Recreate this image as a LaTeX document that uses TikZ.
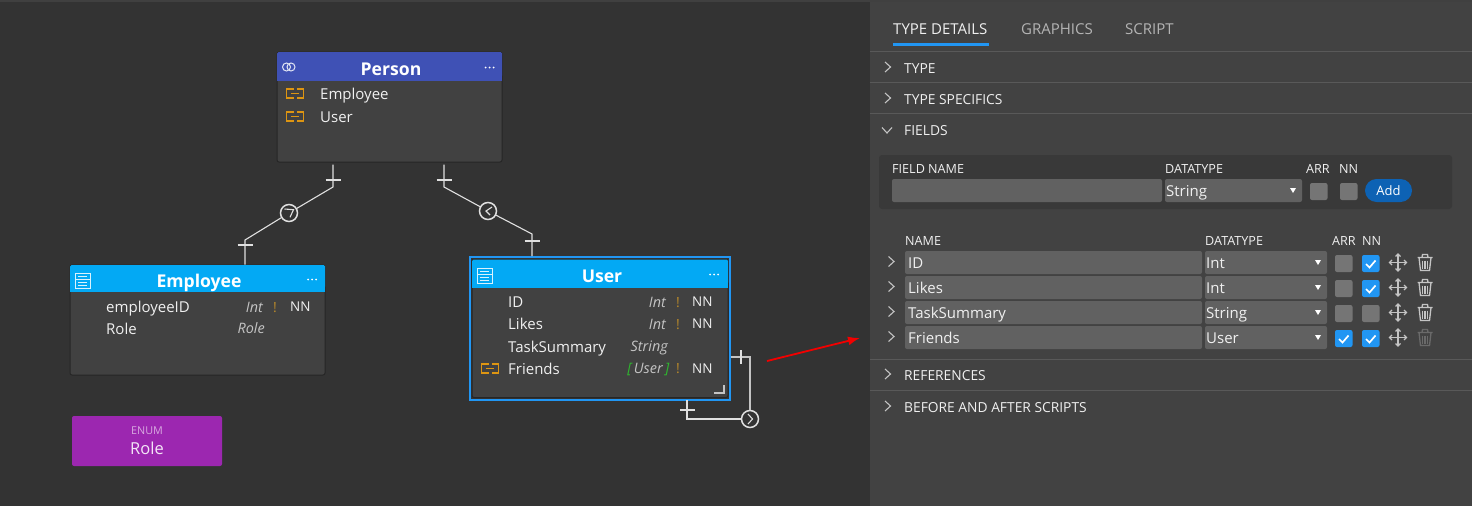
\documentclass[tikz,border=0pt]{standalone}
\usepackage{fontspec}
\setmainfont{Open Sans}
\usetikzlibrary{arrows.meta}
\definecolor{canvas}{HTML}{333333}
\definecolor{panel}{HTML}{424242}
\definecolor{boxbody}{HTML}{414141}
\definecolor{edge}{HTML}{262626}
\definecolor{indigo}{HTML}{3F51B5}
\definecolor{sky}{HTML}{03A9F4}
\definecolor{selblue}{HTML}{2196F3}
\definecolor{purp}{HTML}{9C27B0}
\definecolor{field}{HTML}{616161}
\definecolor{chk}{HTML}{757575}
\definecolor{addbox}{HTML}{393939}
\definecolor{addbtn}{HTML}{0D62B4}
\definecolor{orng}{HTML}{DD9512}
\definecolor{excl}{HTML}{B8892A}
\definecolor{grn}{HTML}{2EB82E}
\definecolor{txt}{HTML}{F0F0F0}
\definecolor{soft}{HTML}{C4C4C4}
\definecolor{dim}{HTML}{B4B4B4}
\definecolor{conn}{HTML}{E0E0E0}
\definecolor{faded}{HTML}{6A6A6A}
\tikzset{
  x=1pt,y=-1pt,
  fieldlabel/.style={inner sep=0pt,anchor=base west,text=txt,font=\fontsize{15}{17}\selectfont},
  boxtitle/.style={inner sep=0pt,anchor=base,text=white,font=\fontsize{17.6}{20}\bfseries\selectfont},
  typ/.style={inner sep=0pt,anchor=base east,text=soft,font=\fontsize{14.4}{16}\itshape\selectfont},
  bang/.style={inner sep=0pt,anchor=base,text=excl,font=\fontsize{14}{16}\selectfont},
  nnmark/.style={inner sep=0pt,anchor=base west,text=txt,font=\fontsize{13.5}{16}\selectfont},
  tabtext/.style={inner sep=0pt,anchor=base west,font=\fontsize{15}{17}\selectfont},
  sect/.style={inner sep=0pt,anchor=base west,text=txt,font=\fontsize{13.8}{16}\selectfont},
  colhead/.style={inner sep=0pt,anchor=base west,text=txt,font=\fontsize{12.6}{15}\selectfont},
  val/.style={inner sep=0pt,anchor=base west,text=txt,font=\fontsize{15}{17}\selectfont},
  conline/.style={draw=conn,line width=1.1pt},
  roundel/.style={circle,draw=conn,line width=1.5pt,fill=canvas,minimum size=17pt,inner sep=0pt},
  chev/.style={draw=soft,line width=1.1pt}
}
\newcommand{\boxshape}[7]{% x1 y1 x2 y2 ybar colour edge
  \fill[boxbody,draw=#7,rounded corners=2pt,line width=1pt] (#1,#2) rectangle (#3,#4);
  \fill[#6,rounded corners=1.5pt] (#1,#2) rectangle (#3,#5-4);
  \fill[#6] (#1,#2+4) rectangle (#3,#5);
}
\newcommand{\threedots}[2]{\fill[white] (#1-4,#2) circle (1pt) (#1,#2) circle (1pt) (#1+4,#2) circle (1pt);}
\newcommand{\tableicon}[2]{% top-left
  \draw[white!85!sky,line width=1pt] (#1,#2) rectangle (#1+15,#2+15);
  \draw[white!85!sky,line width=.8pt] (#1+3,#2+3.5) -- (#1+12,#2+3.5) (#1,#2+6.5) -- (#1+15,#2+6.5) (#1+3,#2+9.5) -- (#1+12,#2+9.5) (#1+3,#2+12) -- (#1+12,#2+12);
}
\newcommand{\linkicon}[2]{% centre
  \draw[orng,line width=1.1pt] (#1-1.5,#2-4.5) -- (#1-8.5,#2-4.5) -- (#1-8.5,#2+4.5) -- (#1-1.5,#2+4.5)
    (#1+1.5,#2-4.5) -- (#1+8.5,#2-4.5) -- (#1+8.5,#2+4.5) -- (#1+1.5,#2+4.5)
    (#1-4,#2) -- (#1+4,#2);
}
\newcommand{\cmark}[3]{\fill[#3,rounded corners=2pt] (#1,#2) rectangle (#1+17.5,#2+17);}
\newcommand{\cmarkon}[2]{\cmark{#1}{#2}{selblue}
  \draw[white,line width=1.7pt] (#1+4,#2+9) -- (#1+7.5,#2+12.5) -- (#1+13.5,#2+5.5);}
\newcommand{\moveicon}[2]{% centre
  \draw[soft,line width=1.3pt] (#1-8,#2) -- (#1+8,#2) (#1,#2-8) -- (#1,#2+8);
  \draw[soft,line width=1.3pt] (#1-6,#2-2.5) -- (#1-8.5,#2) -- (#1-6,#2+2.5)
    (#1+6,#2-2.5) -- (#1+8.5,#2) -- (#1+6,#2+2.5)
    (#1-2.5,#2-6) -- (#1,#2-8.5) -- (#1+2.5,#2-6)
    (#1-2.5,#2+6) -- (#1,#2+8.5) -- (#1+2.5,#2+6);
}
\newcommand{\trashicon}[3]{% centre colour
  \draw[#3,line width=1.3pt] (#1-7.5,#2-5) -- (#1+7.5,#2-5) (#1-3,#2-5) -- (#1-2.5,#2-8) -- (#1+2.5,#2-8) -- (#1+3,#2-5);
  \draw[#3,line width=1.3pt] (#1-6,#2-5) -- (#1-4.5,#2+8) -- (#1+4.5,#2+8) -- (#1+6,#2-5);
  \draw[#3,line width=1.1pt] (#1-2.4,#2-2) -- (#1-2.4,#2+6) (#1,#2-2) -- (#1,#2+6) (#1+2.4,#2-2) -- (#1+2.4,#2+6);
}
\newcommand{\chevR}[2]{\draw[chev] (#1-2.5,#2-5) -- (#1+3,#2) -- (#1-2.5,#2+5);}
\newcommand{\chevD}[2]{\draw[chev] (#1-5,#2-2.5) -- (#1,#2+3) -- (#1+5,#2-2.5);}
\newcommand{\seltri}[2]{\fill[white] (#1-3,#2-2.5) -- (#1+3,#2-2.5) -- (#1,#2+2.5) -- cycle;}
\newcommand{\fieldrow}[4]{% n y name type
  \fill[field,rounded corners=2pt] (905,#2-11.5) rectangle (1202,#2+11.5);
  \node[val] (rname#1) at (908,#2+5.5) {#3};
  \fill[field,rounded corners=2pt] (1205,#2-11.5) rectangle (1327,#2+11.5);
  \node[val] (rtype#1) at (1206,#2+5.5) {#4};
  \seltri{1318}{#2}
  \chevR{891}{#2-1}
  \moveicon{1398}{#2}
}
\begin{document}
\begin{tikzpicture}
\useasboundingbox (0,0) rectangle (1472,506);
\fill[canvas] (0,0) rectangle (870,506);
\fill[panel] (870,0) rectangle (1472,506);
\fill[black!75] (0,0) rectangle (1472,1.5);

% ---------- diagram boxes
\boxshape{277}{52}{502}{162}{81}{indigo}{edge}
\draw[white!85!indigo,line width=1pt] (286.5,67) circle (4pt) (291,67) circle (4pt);
\node[boxtitle] (person) at (391,75) {Person};
\threedots{489.5}{67.5}
\linkicon{295}{93.5}
\node[fieldlabel] (pemp) at (320,99) {Employee};
\linkicon{295}{116.5}
\node[fieldlabel] (puser) at (320,122) {User};

\boxshape{70}{265}{325}{375}{292}{sky}{edge}
\tableicon{75}{273}
\node[boxtitle] (employee) at (199,287) {Employee};
\threedots{312}{279.5}
\node[fieldlabel] (eid) at (106,312) {employeeID};
\node[typ] (eidt) at (263,312) {Int};
\node[bang] (eidx) at (275,312) {!};
\node[nnmark] (eidn) at (290,311) {NN};
\node[fieldlabel] (erole) at (106,334) {Role};
\node[typ] (eroley) at (265,333) {Role};

% selected User box
\draw[selblue,line width=2pt] (470,257) rectangle (730,399.5);
\boxshape{472}{259.5}{728}{397.5}{288}{sky}{black!85}
\tableicon{477}{268}
\node[boxtitle] (user) at (602,282) {User};
\threedots{714}{274.5}
\node[fieldlabel] (uid) at (508,307) {ID};
\node[typ] (uidt) at (666,307) {Int};
\node[bang] (uidx) at (678,307) {!};
\node[nnmark] (uidn) at (692,306) {NN};
\node[fieldlabel] (ulk) at (508,329) {Likes};
\node[typ] (ulkt) at (666,329) {Int};
\node[bang] (ulkx) at (678,329) {!};
\node[nnmark] (ulkn) at (692,328) {NN};
\node[fieldlabel] (uts) at (508,352) {TaskSummary};
\node[typ] (utst) at (668,351) {String};
\linkicon{490}{368.5}
\node[fieldlabel] (ufr) at (508,374) {Friends};
\node[typ] (ufrt) at (669.5,373) {\textcolor{grn}{[\,}User\,\textcolor{grn}{]}};
\node[bang] (ufrx) at (678,373) {!};
\node[nnmark] (ufrn) at (692,373) {NN};
\draw[soft,line width=1.3pt] (724,385) -- (724,393) -- (714,393);

% enum
\fill[purp,rounded corners=2pt] (72,416) rectangle (222,466);
\node[inner sep=0pt,anchor=base,text=white!60!purp,font=\fontsize{10.8}{12}\selectfont] (enumk) at (147,434) {ENUM};
\node[inner sep=0pt,anchor=base,text=white!88!purp,font=\fontsize{16.5}{19}\selectfont] (enumr) at (147,454) {Role};

% ---------- connectors
\coordinate (pl) at (333,164.5);
\coordinate (plb) at (333,187);
\coordinate (el) at (245,240);
\coordinate (eb) at (245,264.5);
\node[roundel] (c1) at (289,213) {};
\draw[conline] (pl) -- (plb) -- (c1);
\draw[conline] (c1) -- (el) -- (eb);
\draw[conline] (325.5,180) -- (340.5,180) (237.5,245) -- (252.5,245);
\draw[conn,line width=1.1pt] (284.5,209) -- (293.5,209.7) -- (290,217.3);

\coordinate (pr) at (444,164.5);
\coordinate (prb) at (444,187);
\coordinate (ur) at (532,234);
\coordinate (ut) at (532,256);
\node[roundel] (c2) at (488,211) {};
\draw[conline] (pr) -- (prb) -- (c2);
\draw[conline] (c2) -- (ur) -- (ut);
\draw[conline] (436.5,180) -- (451.5,180) (524.5,241) -- (539.5,241);
\draw[conn,line width=1.1pt] (492,207) -- (486,211) -- (490,215);

\coordinate (sa) at (731,357);
\coordinate (sb) at (750,357);
\coordinate (sc) at (687,400);
\coordinate (sd) at (687,419);
\node[roundel] (c3) at (750,419) {};
\draw[draw=soft,line width=1.1pt] (sa) -- (sb) -- (c3);
\draw[conline] (sc) -- (sd) -- (c3);
\draw[conline] (741,350) -- (741,364) (680,410) -- (695,410);
\draw[conn,line width=1.1pt] (748,414) -- (752.5,419) -- (748,424);

% red arrow
\coordinate (ra) at (767,361);
\coordinate (rb) at (860,338);
\draw[red!95!black,line width=1.8pt,-{Latex[length=12pt,width=9pt]}] (ra) -- (rb);

% ---------- panel tabs
\node[tabtext,text=txt] (t1) at (893,34.2) {TYPE DETAILS};
\node[tabtext,text=dim] (t2) at (1021,34.2) {GRAPHICS};
\node[tabtext,text=dim] (t3) at (1125,34.2) {SCRIPT};
\fill[selblue] (893,43) rectangle (989,45.5);

\foreach \yy in {51,82,113,359,390} \draw[black!65,line width=1pt] (870,\yy) -- (1472,\yy);

\node[sect] (s1) at (904,73.3) {TYPE};
\node[sect] (s2) at (904,104.3) {TYPE SPECIFICS};
\node[sect] (s3) at (904,135.3) {FIELDS};
\node[sect] (s4) at (904,380.3) {REFERENCES};
\node[sect] (s5) at (904,412.3) {BEFORE AND AFTER SCRIPTS};
\chevR{887.5}{67}
\chevR{887.5}{98}
\chevD{887}{130}
\chevR{887.5}{374}
\chevR{887.5}{406}

% add field
\fill[addbox,rounded corners=3pt] (879,155) rectangle (1452,209);
\node[colhead] (fn) at (892,173.2) {FIELD NAME};
\node[colhead] (fd) at (1165,173.2) {DATATYPE};
\node[colhead] (fa) at (1306,173.2) {ARR};
\node[colhead] (fnn) at (1339,173.2) {NN};
\fill[field,rounded corners=2pt] (892,179) rectangle (1162,202);
\fill[field,rounded corners=2pt] (1165,179) rectangle (1302,202);
\node[val] (fs) at (1166,196) {String};
\seltri{1293}{190.5}
\cmark{1310}{183}{chk}
\cmark{1340}{183}{chk}
\fill[addbtn,rounded corners=11.5pt] (1365,179) rectangle (1412,202);
\node[inner sep=0pt,anchor=base,text=white,font=\fontsize{13}{15}\selectfont] (addb) at (1388.5,195) {Add};

% field table
\node[colhead] (hn) at (905,245.2) {NAME};
\node[colhead] (hd) at (1205,245.2) {DATATYPE};
\node[colhead] (ha) at (1332,245.2) {ARR};
\node[colhead] (hnn) at (1362,245.2) {NN};

\fieldrow{1}{262.5}{ID}{Int}
\cmark{1335}{255}{chk}\cmarkon{1362}{255}
\trashicon{1425}{262.5}{soft}
\fieldrow{2}{287.5}{Likes}{Int}
\cmark{1335}{280}{chk}\cmarkon{1362}{280}
\trashicon{1425}{287.5}{soft}
\fieldrow{3}{312.5}{TaskSummary}{String}
\cmark{1335}{305}{chk}\cmark{1362}{305}{chk}
\trashicon{1425}{312.5}{soft}
\fieldrow{4}{337.5}{Friends}{User}
\cmarkon{1335}{330}\cmarkon{1362}{330}
\trashicon{1425}{337.5}{faded}
\end{tikzpicture}
\end{document}
